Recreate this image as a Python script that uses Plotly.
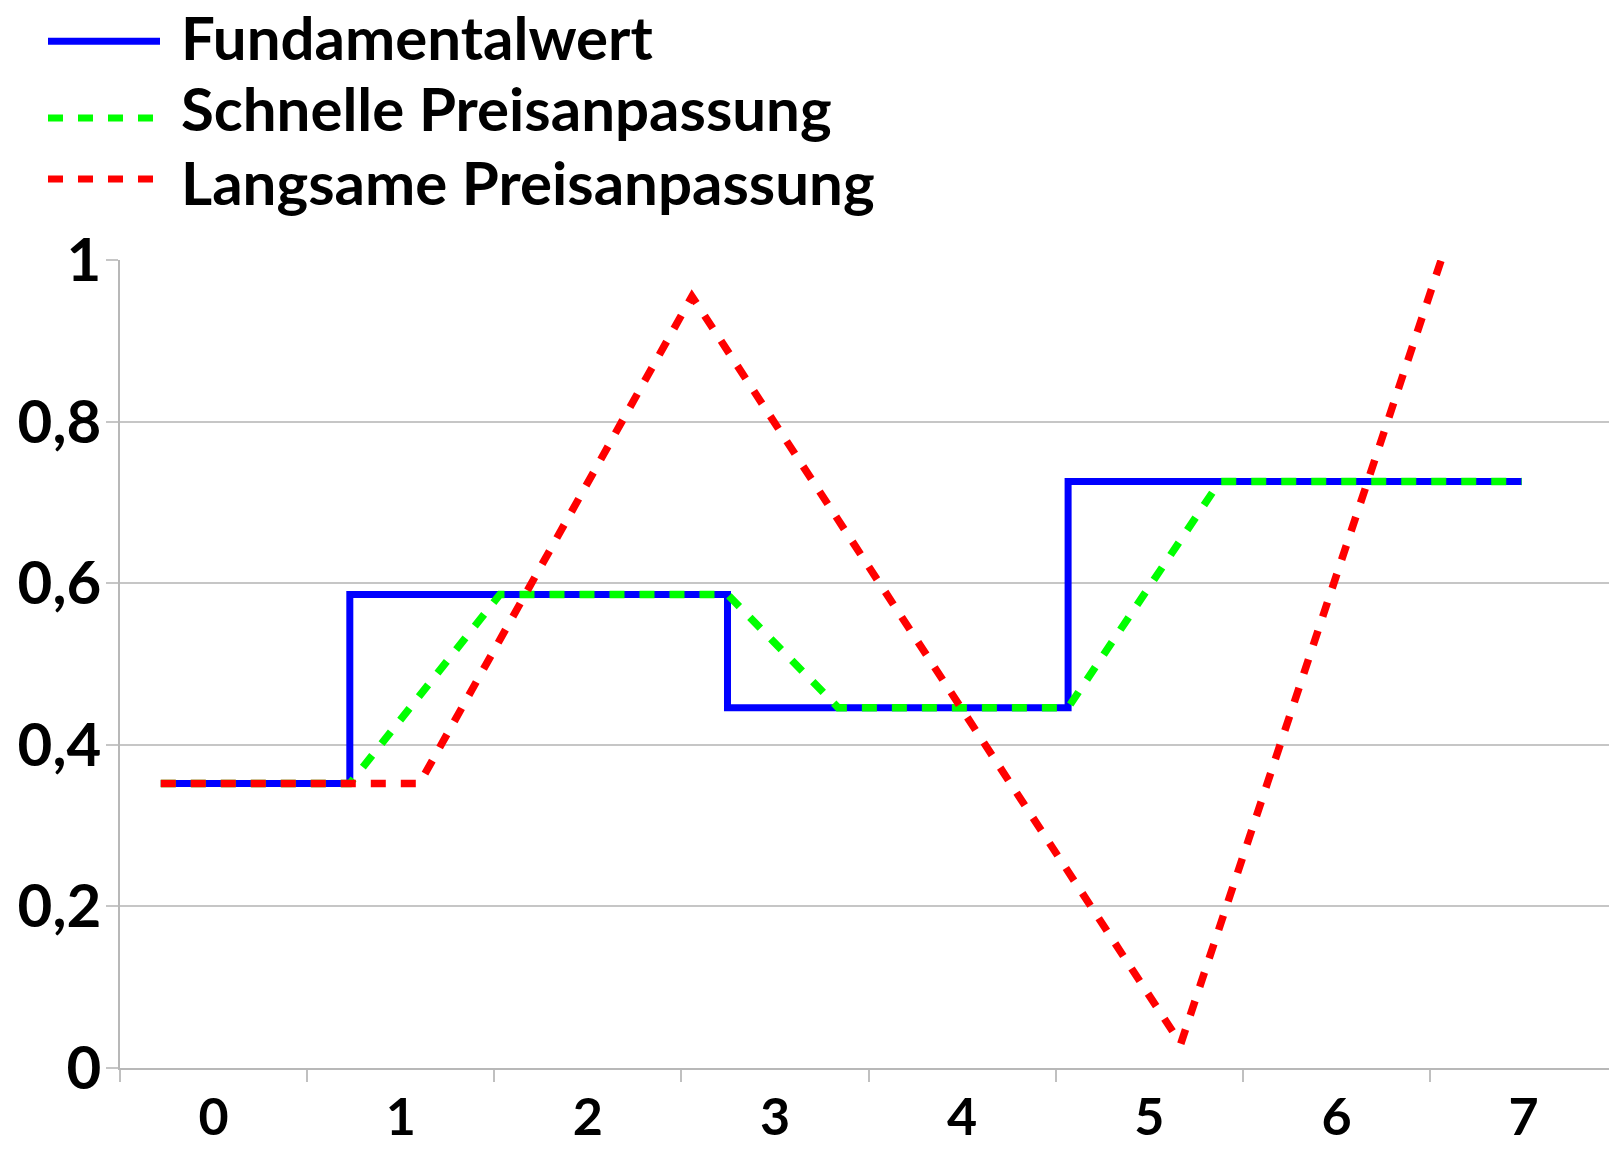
import plotly.graph_objects as go

# values (x in category units, y in price)
fund_x = [-0.282, 0.728, 2.746, 4.566, 6.99]
fund_y = [0.352, 0.586, 0.446, 0.726, 0.726]

fast_x = [-0.282, 0.728, 1.530, 2.746, 3.337, 4.566, 5.377, 6.99]
fast_y = [0.352, 0.352, 0.586, 0.586, 0.446, 0.446, 0.726, 0.726]

slow_x = [-0.282, 1.10, 2.556, 5.168, 6.99]
slow_y = [0.352, 0.352, 0.955, 0.03, 1.30]

x_labels = ['0', '1', '2', '3', '4', '5', '6', '7']
y_ticks = [0, 0.2, 0.4, 0.6, 0.8, 1]

names = ['Fundamentalwert', 'Schnelle Preisanpassung', 'Langsame Preisanpassung']
colors = ['#0000ff', '#00ff00', '#ff0000']

W, H = 1609, 1152
PLOT_L, PLOT_R, PLOT_T, PLOT_B = 120, 1609, 260, 1068.5
FONT = dict(family='Lato, Open Sans, sans-serif', size=60, color='black', weight='bold')
XFONT = dict(FONT, size=52)
GRID = '#c6c6c6'


def px_x(px):
    """Pixel column -> paper x."""
    return (px - PLOT_L) / (PLOT_R - PLOT_L)


def px_y(px):
    """Pixel row -> paper y."""
    return (PLOT_B - px) / (PLOT_B - PLOT_T)


def _legend(fig):
    """Draw the legend above the plot like the original (long sample lines)."""
    rows = [41, 118, 179]
    text_rows = [36.5, 108, 182]
    for name, color, ly, ty, dash in zip(names, colors, rows, text_rows,
                                         ['solid', '15px,15px', '15px,15px']):
        fig.add_shape(type='line', xref='paper', yref='paper',
                      x0=px_x(48), x1=px_x(160), y0=px_y(ly), y1=px_y(ly),
                      line=dict(color=color, width=7, dash=dash))
        fig.add_annotation(text=name, xref='paper', yref='paper',
                           x=px_x(179), y=px_y(ty), xanchor='left', yanchor='middle',
                           showarrow=False, font=FONT)


fig = go.Figure()
fig.add_trace(go.Scatter(x=fund_x, y=fund_y, mode='lines', line_shape='hv',
                         name=names[0], line=dict(color=colors[0], width=7)))
fig.add_trace(go.Scatter(x=fast_x, y=fast_y, mode='lines', name=names[1],
                         line=dict(color=colors[1], width=7.5, dash='15px,15px')))
fig.add_trace(go.Scatter(x=slow_x, y=slow_y, mode='lines', name=names[2],
                         line=dict(color=colors[2], width=7.5, dash='15px,15px')))

_legend(fig)

fig.update_layout(
    width=W, height=H,
    margin=dict(l=PLOT_L, r=W - PLOT_R, t=PLOT_T, b=H - PLOT_B),
    paper_bgcolor='white', plot_bgcolor='white',
    showlegend=False,
    separators=',.',
    font=FONT,
)
fig.update_xaxes(
    range=[-0.5, -0.5 + (PLOT_R - PLOT_L) / 187.15],
    tickmode='array', tickvals=list(range(len(x_labels))), ticktext=x_labels,
    ticks='', ticklabelstandoff=3, tickfont=XFONT, automargin=False,
    showgrid=False, zeroline=False,
    showline=True, linecolor='#b8b8b8', linewidth=2,
    minor=dict(tickmode='array', tickvals=[k - 0.5 for k in range(len(x_labels))],
               ticks='outside', ticklen=12, tickwidth=1.5, tickcolor='#c0c0c0', showgrid=False),
)
fig.update_yaxes(
    range=[0, 1],
    tickmode='array', tickvals=y_ticks, automargin=False,
    ticks='outside', ticklen=12, tickwidth=1.5, tickcolor=GRID, tickfont=FONT,
    ticklabelstandoff=-7,
    showgrid=True, gridcolor=GRID, gridwidth=1.5, zeroline=False,
    showline=True, linecolor='#b8b8b8', linewidth=1.5,
)

fig.write_html("out.html", config={'displayModeBar': False},
               post_script="document.body.style.margin='0';")
